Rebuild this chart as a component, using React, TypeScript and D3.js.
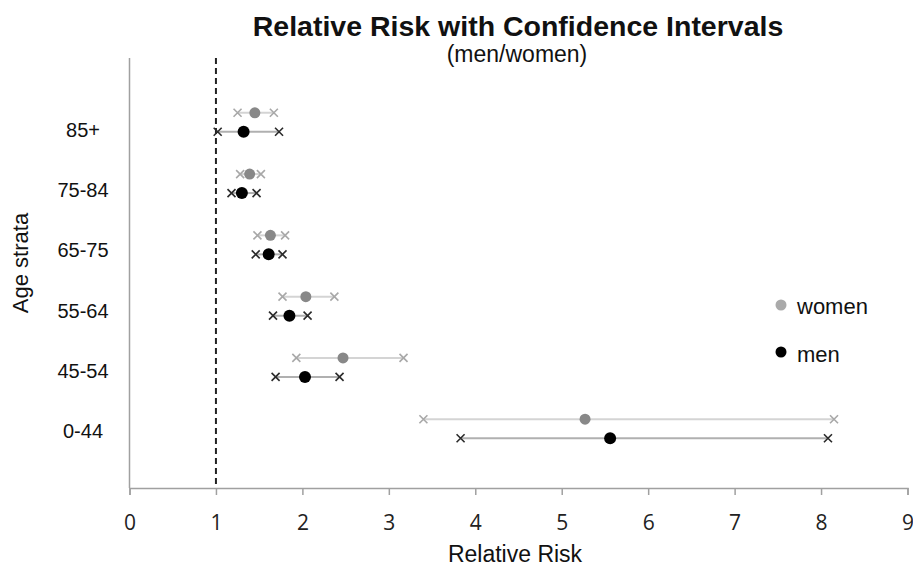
import { useEffect, useRef } from "react";
import * as d3 from "d3";

// age strata, bottom to top
const strata = ["0-44", "45-54", "55-64", "65-75", "75-84", "85+"];

// relative risk estimates and 95% CI
const womenRR = [5.27, 2.47, 2.04, 1.63, 1.39, 1.45];
const womenLow = [3.4, 1.93, 1.77, 1.48, 1.28, 1.25];
const womenHigh = [8.15, 3.17, 2.37, 1.8, 1.52, 1.67];

const menRR = [5.56, 2.03, 1.85, 1.61, 1.3, 1.32];
const menLow = [3.83, 1.69, 1.66, 1.46, 1.18, 1.02];
const menHigh = [8.08, 2.43, 2.06, 1.77, 1.47, 1.73];

const xTicks = [0, 1, 2, 3, 4, 5, 6, 7, 8, 9];

const App = () => {
  const svgRef = useRef<SVGSVGElement>(null);

  useEffect(() => {
    if (!svgRef.current) return;
    document.body.style.margin = "0";

    const width = 913;
    const height = 568;
    const left = 129.5;
    const right = 907.5;
    const top = 58;
    const bottom = 488;

    const svg = d3.select(svgRef.current);
    svg.selectAll("*").remove();
    svg
      .attr("width", width)
      .attr("height", height)
      .style("font-family", "'Liberation Sans', Arial, sans-serif");

    const x = d3.scaleLinear().domain([0, 9]).range([left, right]);
    const y = d3.scaleLinear().domain([0, 7]).range([490, 61]);
    // the category labels sit in a text box, spaced a bit tighter than the rows
    const yLabel = d3.scaleLinear().domain([1, 6]).range([431, 130]);

    // axes
    svg
      .append("line")
      .attr("x1", left)
      .attr("x2", left)
      .attr("y1", top)
      .attr("y2", bottom)
      .attr("stroke", "#a0a0a0")
      .attr("stroke-width", 1.5);

    const xAxis = svg
      .append("g")
      .attr("transform", `translate(0,${bottom})`)
      .call(d3.axisBottom(x).tickValues(xTicks).tickSize(7).tickFormat(d3.format("d")));
    xAxis.select(".domain").attr("stroke", "#a0a0a0").attr("stroke-width", 1.5);
    xAxis.selectAll(".tick line").attr("stroke", "#a0a0a0").attr("stroke-width", 1.5);
    xAxis
      .selectAll(".tick text")
      .attr("y", 0)
      .attr("dy", 42)
      .attr("fill", "#222")
      .style("font-family", "'Open Sans', sans-serif")
      .style("font-size", "21px");

    // reference line at RR = 1
    svg
      .append("line")
      .attr("x1", x(1))
      .attr("x2", x(1))
      .attr("y1", top)
      .attr("y2", bottom)
      .attr("stroke", "#222")
      .attr("stroke-width", 2)
      .attr("stroke-dasharray", "6,4");

    const series = [
      {
        name: "women",
        rr: womenRR,
        lo: womenLow,
        hi: womenHigh,
        off: -9.5,
        line: "#d4d4d4",
        mark: "#a8a8a8",
        dot: "#888888",
        r: 5.5,
      },
      {
        name: "men",
        rr: menRR,
        lo: menLow,
        hi: menHigh,
        off: 9.5,
        line: "#b0b0b0",
        mark: "#2a2a2a",
        dot: "#000000",
        r: 6,
      },
    ];

    const xMark = (g: any, cx: number, cy: number, color: string) => {
      const s = 4;
      g.append("path")
        .attr("d", `M${cx - s},${cy - s}L${cx + s},${cy + s}M${cx - s},${cy + s}L${cx + s},${cy - s}`)
        .attr("stroke", color)
        .attr("stroke-width", 1.6)
        .attr("fill", "none");
    };

    series.forEach((s) => {
      const g = svg.append("g");
      strata.forEach((_, i) => {
        const cy = y(i + 1) + s.off;
        g.append("line")
          .attr("x1", x(s.lo[i]))
          .attr("x2", x(s.hi[i]))
          .attr("y1", cy)
          .attr("y2", cy)
          .attr("stroke", s.line)
          .attr("stroke-width", 2);
        xMark(g, x(s.lo[i]), cy, s.mark);
        xMark(g, x(s.hi[i]), cy, s.mark);
        g.append("circle")
          .attr("cx", x(s.rr[i]))
          .attr("cy", cy)
          .attr("r", s.r)
          .attr("fill", s.dot);
      });
    });

    // category labels
    svg
      .append("g")
      .selectAll("text")
      .data(strata)
      .join("text")
      .attr("x", 83)
      .attr("y", (_, i) => yLabel(i + 1) + 7)
      .attr("text-anchor", "middle")
      .attr("fill", "#111")
      .style("font-size", "20px")
      .text((d) => d);

    // legend
    const legend = svg.append("g");
    [
      { label: "women", color: "#aaaaaa", cy: 305, ty: 314 },
      { label: "men", color: "#000000", cy: 352, ty: 362 },
    ].forEach((l) => {
      legend.append("circle").attr("cx", 781).attr("cy", l.cy).attr("r", 5.5).attr("fill", l.color);
      legend
        .append("text")
        .attr("x", 797)
        .attr("y", l.ty)
        .attr("fill", "#111")
        .style("font-size", "22px")
        .text(l.label);
    });

    // titles
    svg
      .append("text")
      .attr("x", 518)
      .attr("y", 36)
      .attr("text-anchor", "middle")
      .attr("fill", "#111")
      .style("font-size", "28.5px")
      .style("font-weight", "bold")
      .text("Relative Risk with Confidence Intervals");

    svg
      .append("text")
      .attr("x", 517)
      .attr("y", 62)
      .attr("text-anchor", "middle")
      .attr("fill", "#111")
      .style("font-size", "23px")
      .text("(men/women)");

    svg
      .append("text")
      .attr("x", 515)
      .attr("y", 562)
      .attr("text-anchor", "middle")
      .attr("fill", "#111")
      .style("font-size", "23px")
      .text("Relative Risk");

    svg
      .append("text")
      .attr("transform", "translate(28,263) rotate(-90)")
      .attr("text-anchor", "middle")
      .attr("fill", "#111")
      .style("font-size", "22px")
      .text("Age strata");
  }, []);

  return <svg ref={svgRef}></svg>;
};

export default App;
